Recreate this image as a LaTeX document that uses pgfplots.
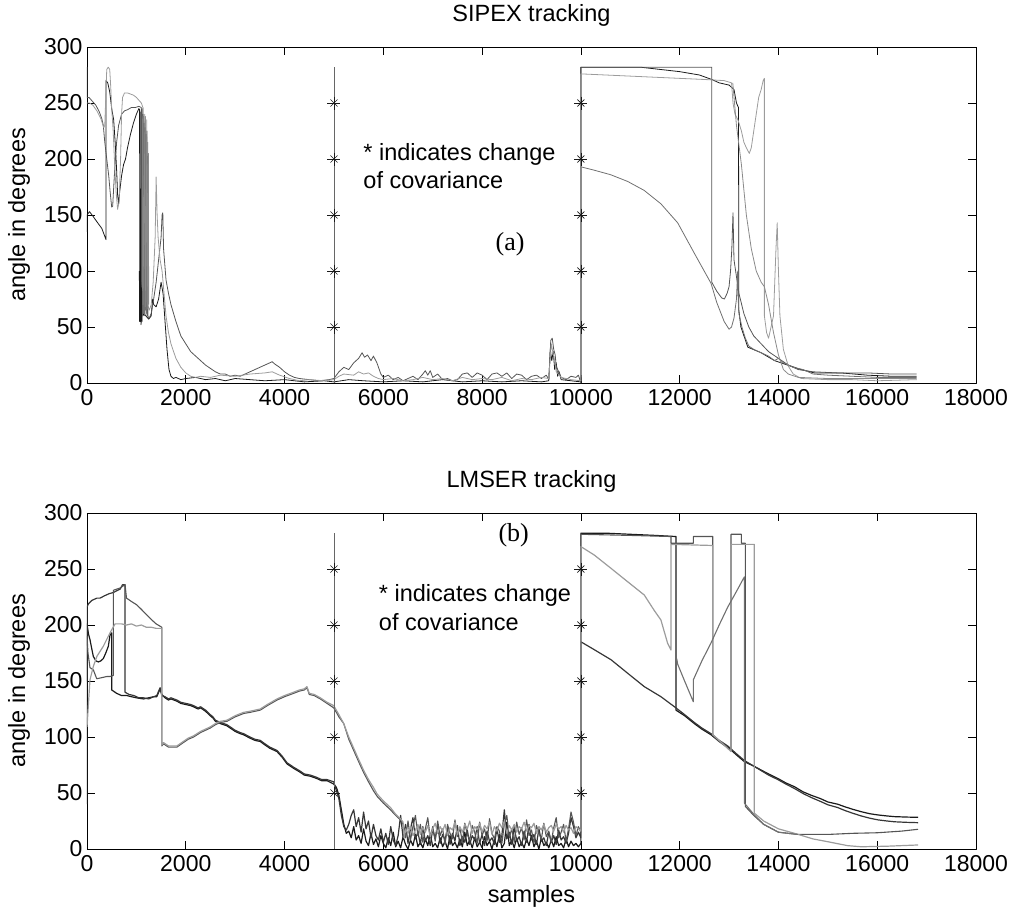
\documentclass[border=0pt]{standalone}
\usepackage{fontspec}
\setmainfont{Liberation Sans}
\newfontfamily\timesfont{Liberation Serif}
\usepackage{pgfplots}
\pgfplotsset{compat=1.18}
\definecolor{cA}{HTML}{1A1A1A}
\definecolor{cB}{HTML}{363636}
\definecolor{cC}{HTML}{555555}
\definecolor{cD}{HTML}{707070}
\definecolor{cE}{HTML}{9C9C9C}
\definecolor{cF}{HTML}{8A8A8A}
\definecolor{cStar}{HTML}{666666}
\pgfplotsset{sub/.style={
  width=889pt, height=336pt, scale only axis,
  xmin=0, xmax=18000, ymin=0, ymax=300,
  xtick={0,2000,...,18000}, ytick={0,50,...,300},
  scaled x ticks=false,
  /pgf/number format/1000 sep={},
  /pgf/number format/assume math mode=true,
  tick align=inside, major tick length=8pt,
  tick style={black, line width=0.6pt},
  axis line style={black, line width=0.8pt},
  ticklabel style={font=\fontsize{23}{27}\selectfont},
  xticklabel style={yshift=-3pt},
  yticklabel style={xshift=-1pt},
  label style={font=\fontsize{23.5}{28}\selectfont},
  title style={font=\fontsize{23.5}{28}\selectfont, at={(0.5,1)}, anchor=base, yshift=20pt},
  ylabel={angle in degrees},
  ylabel style={at={(axis description cs:-0.0697,0.5)}, anchor=base},
  line join=round,
}}
\begin{document}
\begin{tikzpicture}
\path[use as bounding box] (0pt,0pt) rectangle (1013pt,-915pt);
%================ TOP =================
\begin{axis}[sub, at={(87pt,-383pt)}, anchor=south west, title={SIPEX tracking}]
% black
\addplot[cA, line width=0.8pt] coordinates {
(0,135)(0,150)(50,153)(120,149)(200,144)(300,138)(385,128)(385,270)(420,268)(460,260)(500,245)(540,235)(570,215)(600,190)(620,168)(640,160)(660,170)(700,185)(740,195)(780,200)(820,210)(880,222)(940,232)(1000,240)(1050,245)(1065,244)(1070,55)(1080,120)(1085,55)(1095,242)(1100,58)(1110,100)(1115,55)(1125,240)(1135,60)(1150,62)(1190,60)(1250,57)(1300,60)(1330,75)(1350,70)(1400,68)(1450,75)(1500,90)(1540,80)(1580,55)(1620,30)(1660,12)(1700,6)(1750,4)(1800,5)(1900,3)(2000,4)(2200,5)(2400,3)(2600,4)(2800,2)(3000,4)(3300,3)(3600,2)(4000,3)(4400,1)(4800,2)(5000,1)(5300,3)(5600,2)(6000,1)(6400,2)(6800,1)(7200,3)(7600,1)(8000,2)(8400,1)(8800,2)(9200,1)(9350,2)(9380,30)(9410,20)(9440,28)(9470,12)(9500,18)(9530,6)(9560,10)(9600,3)(9800,2)(10000,1)
(10000,282)(11200,282)(11600,280)(12000,278)(12400,275)(12650,271)(12800,268)(13000,266)(13100,262)(13150,250)(13190,246)(13195,163)(13198,65)(13240,50)(13380,32)(13650,27)(13920,20)(14120,17)(14460,12)(14730,9)(15270,9)(15800,7)(16300,6)(16800,6)};
% dark gray
\addplot[cC, line width=0.8pt] coordinates {
(0,282)(0,255)(40,255)(100,252)(180,248)(250,242)(300,236)(330,230)(360,215)(400,200)(440,185)(470,170)(500,157)(520,158)(560,190)(600,215)(640,230)(700,240)(760,243)(820,244)(900,246)(980,246)(1050,247)(1100,246)(1105,70)(1120,245)(1135,62)(1150,240)(1165,65)(1180,238)(1195,60)(1210,225)(1225,60)(1260,58)(1300,62)(1350,75)(1400,90)(1450,110)(1500,130)(1520,150)(1535,152)(1550,120)(1600,92)(1650,80)(1700,70)(1800,55)(1900,42)(2000,35)(2100,28)(2200,24)(2300,20)(2400,16)(2500,13)(2600,10)(2700,8)(2800,8)(2900,6)(3000,7)(3100,6)(3200,8)(3300,10)(3400,12)(3500,14)(3600,16)(3700,18)(3750,19)(3800,17)(3900,14)(4000,10)(4100,7)(4200,5)(4300,4)(4500,3)(4700,2)(4900,3)(5000,4)(5100,10)(5200,14)(5300,12)(5400,18)(5500,22)(5570,27)(5620,23)(5680,25)(5750,20)(5800,24)(5870,18)(5950,8)(6000,5)(6100,7)(6200,3)(6300,5)(6400,2)(6500,4)(6600,6)(6700,3)(6800,8)(6850,11)(6900,7)(6950,11)(7000,5)(7100,8)(7200,3)(7300,4)(7400,2)(7500,3)(7600,8)(7700,9)(7800,5)(7900,9)(8000,7)(8100,3)(8200,8)(8300,9)(8400,6)(8500,9)(8600,4)(8700,8)(8800,7)(8900,3)(9000,6)(9100,7)(9200,4)(9300,7)(9350,3)(9390,38)(9420,40)(9450,30)(9480,25)(9500,15)(9550,10)(9600,5)(9700,3)(9800,6)(9900,5)(9950,7)(10000,0)
(10000,282)(12650,282)(12650,90)(12750,82)(12850,76)(12905,75)(12960,80)(13000,86)(13030,100)(13055,119)(13080,152)(13100,110)(13150,95)(13200,80)(13300,62)(13400,50)(13500,42)(13650,35)(13800,28)(14000,22)(14200,16)(14400,12)(14700,10)(15200,9)(15800,9)(16300,8)(16800,8)};
% mid gray
\addplot[cD, line width=0.8pt] coordinates {
(10000,5)(10000,193)(10270,190)(10600,186)(10945,180)(11280,172)(11620,160)(11960,143)(12295,116)(12635,89)(12750,72)(12900,55)(13000,48)(13050,50)(13100,58)(13150,75)(13175,100)(13185,75)(13200,62)(13260,50)(13330,40)(13400,33)(13500,30)(13650,27)(13800,24)(13920,20)(14000,22)(14100,18)(14300,14)(14500,12)(14700,8)(15000,7)(15500,6)(16000,5)(16800,5)};
% light gray
\addplot[cE, line width=0.8pt] coordinates {
(0,250)(50,250)(120,248)(200,243)(280,236)(340,228)(360,230)(400,280)(430,282)(460,280)(480,265)(500,245)(530,225)(560,195)(590,170)(620,155)(650,162)(680,200)(700,240)(720,255)(760,259)(820,259)(880,258)(940,257)(1000,255)(1060,252)(1100,250)(1140,245)(1150,80)(1170,240)(1190,75)(1210,235)(1230,70)(1260,65)(1300,70)(1340,90)(1380,130)(1400,184)(1420,150)(1440,130)(1480,110)(1520,100)(1560,80)(1600,60)(1650,45)(1700,35)(1800,22)(1900,14)(2000,9)(2100,6)(2200,5)(2300,6)(2500,5)(2700,7)(3000,6)(3300,8)(3600,9)(3750,10)(3900,7)(4100,4)(4300,2)(4500,3)(4800,2)(5000,3)(5100,6)(5200,8)(5400,7)(5500,10)(5600,8)(5700,9)(5800,6)(5900,4)(6000,3)(6200,4)(6400,2)(6600,3)(6800,5)(7000,3)(7200,4)(7400,2)(7600,5)(7800,3)(8000,4)(8200,3)(8400,5)(8600,2)(8800,4)(9000,3)(9200,5)(9350,4)(9400,35)(9430,28)(9470,20)(9500,10)(9600,5)(9800,3)(10000,2)
(10000,276)(10500,275)(11000,274)(11500,273)(12000,272)(12500,271)(12900,270)(13050,268)(13080,250)(13120,240)(13180,235)(13250,225)(13300,215)(13350,210)(13410,205)(13450,210)(13500,225)(13550,240)(13600,255)(13650,262)(13690,270)(13715,272)(13715,60)(13760,45)(13800,40)(13850,50)(13900,60)(13950,120)(13975,143)(14000,100)(14030,60)(14100,30)(14200,15)(14300,8)(14460,4)(15000,3)(15500,3)(16000,2)(16800,3)};
\addplot[cF, line width=0.8pt] coordinates {
(13075,268)(13150,230)(13250,195)(13350,150)(13450,120)(13550,100)(13650,90)(13715,86)(13800,70)(13900,45)(14000,25)(14100,12)(14200,8)(14400,5)(15000,4)(16800,4)};
% dense band of switching
\addplot[cD, line width=0.8pt] coordinates {
(1120,240)(1125,60)(1140,238)(1145,62)(1160,232)(1165,60)(1180,228)(1185,65)(1200,222)(1205,62)(1230,215)(1235,60)};
\addplot[cF, line width=0.8pt] coordinates {
(1130,236)(1132,70)(1175,234)(1178,68)(1215,225)(1218,66)(1245,205)(1248,70)};
\addplot[cA, line width=0.8pt] coordinates {
(1060,100)(1065,55)(1075,95)(1080,55)(1090,90)(1095,52)(1105,85)(1110,55)};
% change markers
\addplot[cStar, line width=0.8pt] coordinates {(5000,0)(5000,282)};
\addplot[only marks, mark=+, mark size=6.5pt, cA, mark options={line width=0.6pt}] coordinates {(5000,50)(5000,100)(5000,150)(5000,200)(5000,250)(10000,50)(10000,100)(10000,150)(10000,200)(10000,250)};
\addplot[only marks, mark=x, mark size=5pt, cA, mark options={line width=0.6pt}] coordinates {(5000,50)(5000,100)(5000,150)(5000,200)(5000,250)(10000,50)(10000,100)(10000,150)(10000,200)(10000,250)};
\node[anchor=base west, font=\fontsize{23.5}{28}\selectfont, inner sep=0pt] at (axis cs:5593,198.5) {* indicates change};
\node[anchor=base west, font=\fontsize{23.5}{28}\selectfont, inner sep=0pt] at (axis cs:5593,173.9) {of covariance};
\node[anchor=base, font=\timesfont\fontsize{26}{30}\selectfont, inner sep=0pt] at (axis cs:8566,118) {(a)};
\end{axis}
%================ BOTTOM =================
\begin{axis}[sub, at={(87pt,-849pt)}, anchor=south west, title={LMSER tracking},
  xlabel={samples}, xlabel style={at={(axis description cs:0.5,0)}, anchor=base, yshift=-53pt}]
% black
\addplot[cA, line width=1.2pt] coordinates {
(0,40)(0,201)(30,192)(60,187)(100,178)(128,172)(180,168)(230,167)(280,168)(330,170)(380,175)(432,181)(466,191)(500,193)(500,142)(600,139)(700,137)(805,137)(900,136)(1000,135)(1142,134)(1250,135)(1350,136)(1413,136)(1480,143)(1515,138)
(1580,135)(1650,133)(1700,134)(1820,132)(1900,130)(2000,129)(2100,128)(2157,127)(2250,125)(2300,126)(2400,123)(2495,119)(2550,117)(2600,114)(2700,112)(2833,110)(2900,108)(3000,105)(3100,103)(3170,102)(3300,99)(3400,97)(3508,96)(3600,93)(3700,90)(3847,87)(3950,82)(4050,76)(4184,72)(4300,69)(4400,66)(4522,65)(4650,63)(4750,61)(4860,61)(4995,58)
(5050,55)(5100,48)(5150,35)(5200,22)(5250,14)(5300,16)(5350,10)(5400,20)(5450,8)(5500,12)(5550,5)(5600,18)(5650,7)(5700,3)(5750,14)(5800,4)(5850,9)(5900,2)(5950,12)(6000,5)(6050,1)(6100,10)(6150,3)(6200,15)(6250,2)(6300,7)(6350,1)(6400,11)(6450,4)(6500,0)(6550,8)(6600,3)(6650,13)(6700,2)(6750,6)(6800,1)(6850,9)(6900,3)(6950,14)(7000,2)(7050,5)(7100,1)(7150,10)(7200,2)(7250,7)(7300,0)(7350,12)(7400,3)(7450,6)(7500,1)(7550,9)(7600,2)(7650,15)(7700,3)(7750,8)(7800,1)(7850,10)(7900,2)(7950,6)(8000,1)(8050,11)(8100,3)(8150,7)(8200,0)(8250,9)(8300,2)(8350,13)(8400,1)(8450,5)(8500,24)(8550,3)(8600,8)(8650,1)(8700,10)(8750,2)(8800,6)(8850,1)(8900,9)(8950,3)(9000,12)(9050,2)(9100,7)(9150,0)(9200,10)(9250,3)(9300,6)(9350,1)(9400,8)(9450,2)(9500,11)(9550,3)(9600,5)(9650,1)(9700,9)(9750,2)(9800,7)(9850,3)(9900,5)(9950,2)(10000,5)
(10000,282)(10500,282)(11000,281)(11500,280)(11925,279)(11925,124)(12100,119)(12296,112)(12450,107)(12635,102)(12800,96)(12973,91)(13150,84)(13310,78)(13500,74)(13650,70.5)(13800,67)(13987,63)(14150,59)(14325,55.6)(14500,51)(14663,48)(14850,45)(15000,42)(15200,40)(15338,37.8)(15500,35.5)(15677,33.3)(15850,31.5)(16015,30.4)(16200,29.5)(16352,28.9)(16600,28.5)(16826,28.3)};
% dark 1
\addplot[cB, line width=1.2pt] coordinates {
(0,150)(0,216)(30,219)(100,222)(200,224)(264,224)(350,226)(450,228)(535,229)(620,231)(670,232)(720,236)(770,236)(770,140)(850,138)(950,137)(1050,135)(1142,135)(1250,134)(1350,136)(1413,137)(1480,144)(1515,137)
(1580,136)(1650,134)(1700,135)(1820,133)(1900,131)(2000,130)(2100,129)(2157,128)(2250,126)(2300,127)(2400,124)(2495,120)(2550,118)(2600,115)(2700,113)(2833,111)(2900,109)(3000,106)(3100,104)(3170,103)(3300,100)(3400,98)(3508,97)(3600,94)(3700,91)(3847,88)(3950,83)(4050,77)(4184,73)(4300,70)(4400,67)(4522,66)(4650,64)(4750,62)(4860,62)(4995,60)
(5050,52)(5100,45)(5150,30)(5200,20)(5250,17)(5300,22)(5350,30)(5400,35)(5450,20)(5500,28)(5550,15)(5600,33)(5650,18)(5700,25)(5750,10)(5800,22)(5850,12)(5900,8)(5950,18)(6000,6)(6050,14)(6100,4)(6150,20)(6200,8)(6250,3)(6300,12)(6350,30)(6400,10)(6450,22)(6500,5)(6550,18)(6600,28)(6650,9)(6700,15)(6750,4)(6800,20)(6850,7)(6900,12)(6950,3)(7000,18)(7050,9)(7100,22)(7150,5)(7200,13)(7250,8)(7300,19)(7350,4)(7400,14)(7450,7)(7500,21)(7550,3)(7600,11)(7650,6)(7700,17)(7750,4)(7800,12)(7850,8)(7900,20)(7950,5)(8000,13)(8050,3)(8100,16)(8150,7)(8200,10)(8250,4)(8300,18)(8350,6)(8400,12)(8450,35)(8500,9)(8550,15)(8600,4)(8650,20)(8700,7)(8750,11)(8800,3)(8850,16)(8900,6)(8950,22)(9000,8)(9050,13)(9100,4)(9150,18)(9200,7)(9250,10)(9300,3)(9350,15)(9400,6)(9450,12)(9500,4)(9550,17)(9600,8)(9650,11)(9700,5)(9750,14)(9800,28)(9850,20)(9900,10)(9950,15)(10000,10)
(10000,185)(10270,178)(10610,169)(10945,157)(11283,145)(11620,136)(11925,126)(12100,120)(12296,113)(12450,108)(12635,103)(12800,97)(12973,92)(13150,85)(13310,79)(13500,74)(13650,70)(13800,66)(13987,62)(14150,58)(14325,54)(14500,49.5)(14663,46)(14850,42.5)(15000,39.5)(15200,37)(15338,34.5)(15500,32)(15677,29.5)(15850,27.5)(16015,26)(16200,25)(16352,24.3)(16600,23.8)(16826,23.5)};
% dark 2
\addplot[cC, line width=1.1pt] coordinates {
(0,190)(20,175)(60,162)(128,160)(197,152)(300,153)(400,154)(466,154)(535,155)(535,231)(600,232)(670,233)(770,236)(800,224)(900,221)(1007,218)(1100,214)(1210,209)(1300,205)(1400,201)(1515,198)(1515,92)
(1548,94)(1650,91)(1820,91)(1950,95)(2050,98)(2157,100)(2300,104)(2495,108)(2600,111)(2700,113)(2833,114)(3000,118)(3170,121)(3300,122)(3508,124)(3650,128)(3847,133)(4000,136)(4184,139)(4300,141)(4400,142)(4454,144)(4500,138)(4600,137)(4724,134)(4860,130)(4995,126)
(5050,122)(5100,118)(5198,112)(5300,98)(5400,88)(5500,78)(5604,68)(5700,60)(5800,52)(5875,47)(6000,41)(6145,35)(6250,30)(6348,26)(6400,22)(6450,10)(6500,25)(6550,8)(6600,20)(6650,30)(6700,12)(6750,22)(6800,6)(6850,18)(6900,28)(6950,10)(7000,20)(7050,7)(7100,25)(7150,12)(7200,18)(7250,4)(7300,22)(7350,14)(7400,9)(7450,26)(7500,11)(7550,19)(7600,6)(7650,23)(7700,13)(7750,8)(7800,21)(7850,15)(7900,5)(7950,24)(8000,12)(8050,18)(8100,7)(8150,27)(8200,14)(8250,9)(8300,20)(8350,16)(8400,5)(8450,22)(8500,30)(8550,10)(8600,18)(8650,6)(8700,24)(8750,13)(8800,19)(8850,8)(8900,26)(8950,12)(9000,17)(9050,5)(9100,21)(9150,14)(9200,9)(9250,23)(9300,11)(9350,16)(9400,6)(9450,19)(9500,28)(9550,10)(9600,15)(9650,22)(9700,7)(9750,18)(9800,33)(9850,24)(9900,12)(9950,20)(10000,15)
(10000,281)(11000,280)(11825,279)(11825,273)(12276,273)(12276,279)(12670,279)(12670,102)(12800,96)(13040,88)(13040,281)(13250,281)(13250,273)(13330,273)(13330,38)(13500,30)(13700,22)(14000,15)(14393,13)(15000,13)(15500,14)(16000,14.5)(16500,16)(16826,17.6)};
% light
\addplot[cE, line width=1.2pt] coordinates {
(0,109)(30,130)(60,151)(128,163)(200,172)(330,181)(466,193)(568,201)(700,201)(800,200)(900,201)(1000,199)(1100,200)(1200,198)(1300,198)(1400,197)(1515,197)(1515,93)
(1548,95)(1650,92)(1820,92)(1950,96)(2050,99)(2157,101)(2300,105)(2495,109)(2600,112)(2700,114)(2833,115)(3000,119)(3170,122)(3300,123)(3508,125)(3650,129)(3847,134)(4000,137)(4184,140)(4300,142)(4400,143)(4454,145)(4500,139)(4600,138)(4724,135)(4860,131)(4995,128)
(5100,120)(5198,112)(5300,100)(5400,90)(5500,80)(5604,70)(5700,62)(5800,55)(5875,49)(6000,43)(6145,37)(6250,31)(6348,27)(6400,24)(6420,10)(6450,18)(6500,14)(6550,20)(6600,12)(6650,17)(6700,22)(6750,13)(6800,19)(6850,15)(6900,21)(6950,11)(7000,18)(7050,23)(7100,14)(7150,20)(7200,16)(7250,22)(7300,12)(7350,19)(7400,17)(7450,24)(7500,13)(7550,20)(7600,15)(7650,22)(7700,18)(7750,25)(7800,14)(7850,20)(7900,17)(7950,23)(8000,15)(8050,21)(8100,18)(8150,24)(8200,13)(8250,20)(8300,16)(8350,23)(8400,19)(8450,25)(8500,14)(8550,21)(8600,17)(8650,22)(8700,15)(8750,20)(8800,18)(8850,24)(8900,16)(8950,21)(9000,19)(9050,23)(9100,14)(9150,20)(9200,17)(9250,22)(9300,15)(9350,19)(9400,21)(9450,16)(9500,22)(9550,18)(9600,20)(9650,15)(9700,21)(9750,17)(9800,19)(9850,14)(9900,20)(9950,18)(10000,16)
(10000,270)(10270,262.5)(10610,250.6)(10945,238.7)(11283,226.8)(11485,213)(11620,204.5)(11756,183.7)(11823,177.7)(11823,272)(12670,271)(12670,102)(12800,97)(13040,87)(13040,272)(13512,272)(13512,32)(13700,25)(14000,18)(14325,14)(14700,9)(15000,6.5)(15400,3)(15677,2)(16200,2.5)(16826,3.6)};
% V piece
\addplot[cD, line width=1.1pt] coordinates {
(11940,170)(11960,165)(12100,150)(12276,131.5)(12276,151)(12450,168)(12635,184)(12800,200)(12973,216)(13150,230)(13310,243)(13310,41)(13500,31)(13700,22)(14000,15)(14393,13)};
% change markers
\addplot[cStar, line width=0.8pt] coordinates {(5000,0)(5000,282)};
\addplot[only marks, mark=+, mark size=6.5pt, cA, mark options={line width=0.6pt}] coordinates {(5000,50)(5000,100)(5000,150)(5000,200)(5000,250)(10000,50)(10000,100)(10000,150)(10000,200)(10000,250)};
\addplot[only marks, mark=x, mark size=5pt, cA, mark options={line width=0.6pt}] coordinates {(5000,50)(5000,100)(5000,150)(5000,200)(5000,250)(10000,50)(10000,100)(10000,150)(10000,200)(10000,250)};
\node[anchor=base west, font=\fontsize{23.5}{28}\selectfont, inner sep=0pt] at (axis cs:5908,220.6) {* indicates change};
\node[anchor=base west, font=\fontsize{23.5}{28}\selectfont, inner sep=0pt] at (axis cs:5908,194.7) {of covariance};
\node[anchor=base, font=\timesfont\fontsize{26}{30}\selectfont, inner sep=0pt] at (axis cs:8640,275) {(b)};
\end{axis}
\end{tikzpicture}
\end{document}
